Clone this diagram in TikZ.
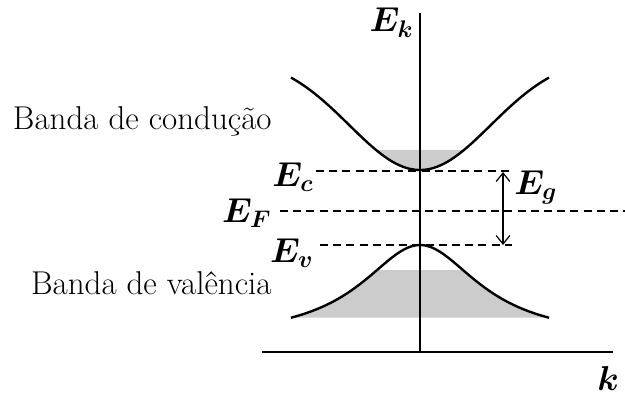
\documentclass[tikz,border=0pt]{standalone}
\usepackage{amsmath,amssymb}
\usepackage{xcolor}
\usepackage{tikz}
\usetikzlibrary{arrows.meta}

\begin{document}
\begin{tikzpicture}[x=0.5pt, y=-0.5pt,
    band/.style={line width=1.2pt},
    axis/.style={line width=0.9pt},
    level/.style={dashed, dash pattern=on 4pt off 2.6pt, line width=0.75pt},
    lbl/.style={font=\fontsize{16.5}{20}\selectfont, inner sep=0pt},
    sym/.style={font=\fontsize{17}{21}\selectfont\boldmath, inner sep=0pt},
    shade/.style={fill=gray!40},
    ar/.style={{Straight Barb[length=1.5mm,width=2.4mm]}-{Straight Barb[length=1.5mm,width=2.4mm]}, line width=0.6pt},
]
\useasboundingbox (0,0) rectangle (625,395);

% occupied states
\fill[shade] plot[domain=-44:44, samples=40] ({420+\x},{170-114*(1-exp(-(\x/100)^2))}) -- cycle;
\fill[shade] plot[domain=-129:-43, samples=40] ({420+\x},{245+95.4*(\x/72)^2/((\x/72)^2+1)})
    -- plot[domain=43:129, samples=40] ({420+\x},{245+95.4*(\x/72)^2/((\x/72)^2+1)}) -- cycle;

% axes
\coordinate (ktop) at (420,13);
\coordinate (korg) at (420,352);
\coordinate (xl) at (262,352);
\coordinate (xr) at (613,352);
\draw[axis] (ktop) -- (korg);
\draw[axis] (xl) -- (xr);

% bands
\draw[band] plot[domain=-129:129, samples=90] ({420+\x},{170-114*(1-exp(-(\x/100)^2))});
\draw[band] plot[domain=-129:129, samples=90] ({420+\x},{245+95.4*(\x/72)^2/((\x/72)^2+1)});

% levels
\coordinate (ecl) at (316,171);
\coordinate (ecr) at (512,171);
\coordinate (efl) at (280,211);
\coordinate (efr) at (625,211);
\coordinate (evl) at (320,245);
\coordinate (evr) at (512,245);
\draw[level] (ecl) -- (ecr);
\draw[level] (efl) -- (efr);
\draw[level] (evl) -- (evr);

\coordinate (gtop) at (503,172);
\coordinate (gbot) at (503,245);
\draw[ar] (gtop) -- (gbot);

% labels
\node[sym, anchor=base east] (ek) at (414,32) {$E_k$};
\node[sym, anchor=base east] (ec) at (314,186) {$E_c$};
\node[sym, anchor=base east] (ef) at (272,222) {$E_F$};
\node[sym, anchor=base east] (ev) at (314,262) {$E_v$};
\node[sym, anchor=base west] (eg) at (514,194) {$E_g$};
\node[sym, anchor=base west] (k) at (597,390) {$k$};
\node[lbl, anchor=base east] (cond) at (272,130) {Banda de condução};
\node[lbl, anchor=base east] (val) at (272,294) {Banda de valência};
\end{tikzpicture}
\end{document}
